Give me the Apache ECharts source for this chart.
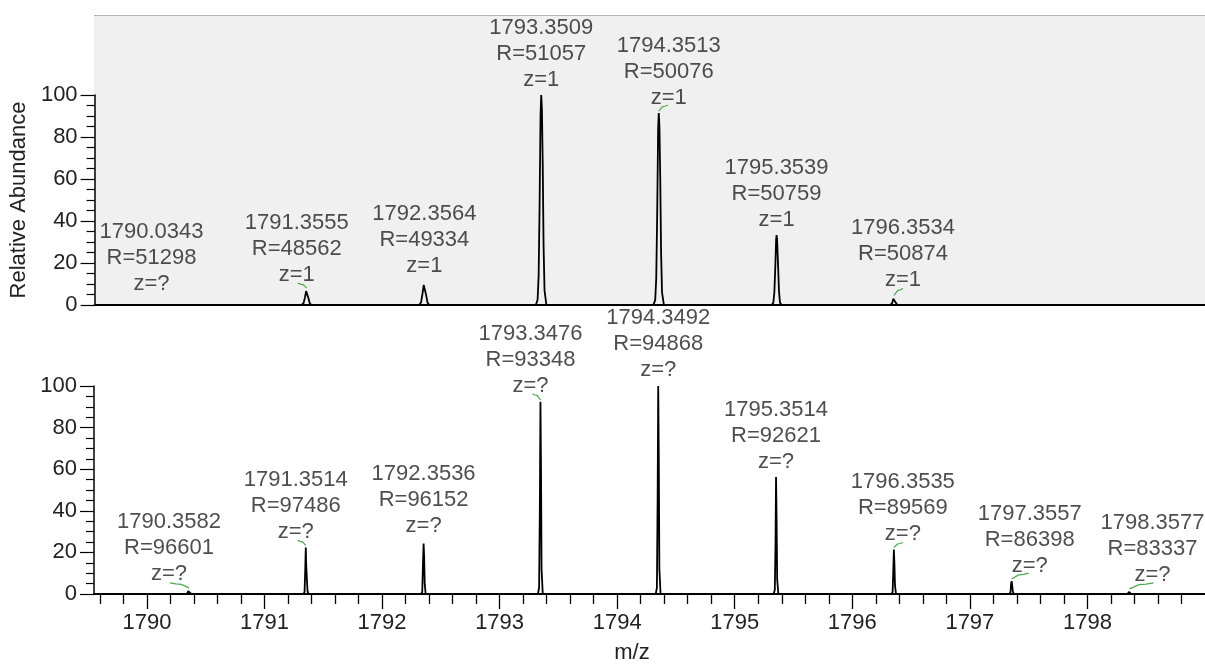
<!DOCTYPE html>
<html>
<head>
<meta charset="utf-8">
<script src="https://cdn.jsdelivr.net/npm/echarts@6/dist/echarts.min.js"></script>
<style>
html,body{margin:0;padding:0;background:#fff;}
#chart{width:1205px;height:665px;}
</style>
</head>
<body>
<div id="chart"></div>
<script>
// ---------- DATA ----------
const topPeakMz = [1790.0343, 1791.3555, 1792.3564, 1793.3509, 1794.3513, 1795.3539, 1796.3534];
const topPeakHeight = [0.6, 7.1, 10.2, 100, 91.4, 33.3, 3.6];
const topPeakR = [51298, 48562, 49334, 51057, 50076, 50759, 50874];
const topPeakZ = ['?', '1', '1', '1', '1', '1', '1'];

const bottomPeakMz = [1790.3582, 1791.3514, 1792.3536, 1793.3476, 1794.3492, 1795.3514, 1796.3535, 1797.3557, 1798.3577];
const bottomPeakHeight = [2.0, 22.4, 24.3, 92.4, 100, 56.2, 21.4, 6.2, 1.5];
const bottomPeakR = [96601, 97486, 96152, 93348, 94868, 92621, 89569, 86398, 83337];
const bottomPeakZ = ['?', '?', '?', '?', '?', '?', '?', '?', '?'];

const topProfile = [
  [1789.55,0],
  [1790.022,0],[1790.0343,0.6],[1790.047,0],
  [1790.588,0],[1790.60,0.5],[1790.612,0],
  [1791.31,0],[1791.328,0.8],[1791.340,3.5],[1791.350,6.6],[1791.3555,7.1],[1791.361,6.4],[1791.370,3.2],[1791.382,0.6],[1791.40,0],
  [1791.958,0],[1791.97,0.9],[1791.982,0],
  [1792.31,0],[1792.328,1.2],[1792.341,5.5],[1792.351,9.6],[1792.3564,10.2],[1792.362,9.4],[1792.371,4.8],[1792.384,1.0],[1792.40,0],
  [1793.305,0],[1793.320,2.5],[1793.329,14],[1793.337,47],[1793.345,90],[1793.3509,100],[1793.357,93],[1793.364,66],[1793.371,28],[1793.379,7],[1793.395,0],
  [1793.578,0],[1793.59,0.5],[1793.602,0],
  [1793.868,0],[1793.88,0.5],[1793.892,0],
  [1794.305,0],[1794.321,2.3],[1794.330,13],[1794.338,44],[1794.346,84],[1794.3513,91.4],[1794.357,85],[1794.364,60],[1794.371,25],[1794.379,6],[1794.395,0],
  [1795.31,0],[1795.326,1],[1795.335,6],[1795.343,18],[1795.350,31],[1795.3539,33.3],[1795.358,31.5],[1795.366,20],[1795.374,7],[1795.383,1],[1795.40,0],
  [1795.888,0],[1795.90,0.5],[1795.912,0],
  [1796.148,0],[1796.16,0.5],[1796.172,0],
  [1796.322,0],[1796.338,1],[1796.348,3],[1796.3534,3.6],[1796.359,3],[1796.369,1],[1796.385,0],
  [1799.0,0]
];

const bottomProfile = [
  [1789.55,0],
  [1790.340,0],[1790.351,1.4],[1790.3582,2.0],[1790.366,1.3],[1790.378,0],
  [1791.332,0],[1791.341,1],[1791.347,12],[1791.3514,22.4],[1791.355,14],[1791.360,8],[1791.366,1.5],[1791.374,0],
  [1792.333,0],[1792.342,1],[1792.348,14],[1792.3536,24.3],[1792.358,18],[1792.363,5],[1792.371,0],
  [1793.326,0],[1793.336,3],[1793.342,40],[1793.3476,92.4],[1793.352,62],[1793.357,12],[1793.367,0],
  [1794.328,0],[1794.338,3],[1794.344,45],[1794.3492,100],[1794.354,64],[1794.359,12],[1794.369,0],
  [1795.331,0],[1795.341,2],[1795.347,25],[1795.3514,56.2],[1795.356,36],[1795.361,7],[1795.371,0],
  [1796.333,0],[1796.343,1],[1796.349,12],[1796.3535,21.4],[1796.358,15],[1796.363,4],[1796.372,0],
  [1797.336,0],[1797.346,1],[1797.351,5],[1797.3557,6.2],[1797.360,5.6],[1797.366,1],[1797.375,0],
  [1798.342,0],[1798.352,1],[1798.3577,1.5],[1798.363,1],[1798.374,0],
  [1799.0,0]
];

const xMajorTicks = [1790, 1791, 1792, 1793, 1794, 1795, 1796, 1797, 1798];
const xMinorTicks = [1789.6, 1789.8,
  1790.2, 1790.4, 1790.6, 1790.8,
  1791.2, 1791.4, 1791.6, 1791.8,
  1792.2, 1792.4, 1792.6, 1792.8,
  1793.2, 1793.4, 1793.6, 1793.8,
  1794.2, 1794.4, 1794.6, 1794.8,
  1795.2, 1795.4, 1795.6, 1795.8,
  1796.2, 1796.4, 1796.6, 1796.8,
  1797.2, 1797.4, 1797.6, 1797.8,
  1798.2, 1798.4, 1798.6, 1798.8];
const xMin = 1789.55, xMax = 1799.0;

// ---------- LAYOUT / STYLE ----------
const FONT = "'Liberation Sans', Arial, sans-serif";
const TXT = '#222222';
const GREEN = '#4caa4c';
const topLabelShift = [[0,-4],[-10,0],[0,-2],[0,0],[10,0],[0,0],[9,-2]];
const bottomLabelShift = [[-20,0],[-10,0],[0,-2],[-10,0],[0,-1],[0,0],[9,0],[18,0],[23,0]];
const topConnector = {1:[-9,-5], 4:[9,-6], 6:[9,-7]};
const bottomConnector = {0:[-19,-5], 1:[-8,-5], 3:[-8,-6], 6:[9,-5], 7:[17,-6], 8:[24,-6]};

const chart = echarts.init(document.getElementById('chart'), null, {renderer: 'canvas'});

function labelSeries(mz, h, R, Z, shift, xi, yi) {
  return {
    type: 'scatter', xAxisIndex: xi, yAxisIndex: yi, z: 5,
    symbolSize: 1, itemStyle: {color: 'rgba(0,0,0,0)'},
    silent: true,
    data: mz.map((m, i) => ({value: [m, h[i]], label: {offset: shift[i]}})),
    label: {
      show: true, position: 'top', distance: 2,
      fontFamily: FONT, fontSize: 22, lineHeight: 26, color: TXT, align: 'center',
      formatter: p => mz[p.dataIndex].toFixed(4) + '\nR=' + R[p.dataIndex] + '\nz=' + Z[p.dataIndex]
    }
  };
}

function connectorSeries(mz, h, conn, xi, yi) {
  const idx = Object.keys(conn).map(Number);
  return {
    type: 'custom', xAxisIndex: xi, yAxisIndex: yi, z: 4, silent: true,
    data: idx.map(i => [mz[i], h[i], i]),
    renderItem: (params, api) => {
      const p = api.coord([api.value(0), api.value(1)]);
      const d = conn[api.value(2)];
      const x0 = p[0], y0 = p[1] - 2;
      return {
        type: 'polyline',
        shape: {points: [[x0, y0], [x0 + d[0] * 0.4, y0 + d[1] * 0.7], [x0 + d[0] * 0.7, y0 + d[1] * 0.8], [x0 + d[0], y0 + d[1]]]},
        style: {stroke: GREEN, lineWidth: 1.2, fill: null}
      };
    }
  };
}

const yAxisCommon = {
  type: 'value', min: 0, max: 100, interval: 20,
  axisLine: {show: true, lineStyle: {color: '#000', width: 1.5}},
  axisTick: {show: true, length: 14, lineStyle: {color: '#000', width: 1.2}},
  minorTick: {show: true, splitNumber: 4, length: 8, lineStyle: {color: '#000', width: 1.2}},
  axisLabel: {fontFamily: FONT, fontSize: 22, color: TXT, margin: 17},
  splitLine: {show: false}
};

const option = {
  animation: false,
  backgroundColor: '#fff',
  graphic: {
    elements: [
      {type: 'rect', left: 94, top: 15, z: -10, shape: {width: 1111, height: 290}, style: {fill: '#f0f0f0'}},
      {type: 'line', z: -9, shape: {x1: 94, y1: 15.5, x2: 1205, y2: 15.5}, style: {stroke: '#b4b4b4', lineWidth: 1}}
    ]
  },
  grid: [
    {left: 94, right: 0, top: 95, height: 210},
    {left: 94, right: 0, top: 386, height: 210}
  ],
  xAxis: [
    {type: 'value', gridIndex: 0, min: xMin, max: xMax, position: 'bottom',
     axisLine: {show: true, onZero: false, lineStyle: {color: '#000', width: 2}},
     axisTick: {show: false}, axisLabel: {show: false}, splitLine: {show: false}},
    {type: 'value', gridIndex: 1, min: xMin, max: xMax, position: 'bottom',
     name: 'm/z', nameLocation: 'middle', nameGap: 48,
     nameTextStyle: {fontFamily: FONT, fontSize: 22, color: TXT, padding: [0, 35, 0, 0]},
     axisLine: {show: true, onZero: false, lineStyle: {color: '#000', width: 2}},
     axisTick: {show: true, length: 15, customValues: xMajorTicks, lineStyle: {color: '#000', width: 1.3}},
     axisLabel: {show: true, customValues: xMajorTicks, formatter: v => String(v), fontFamily: FONT, fontSize: 22, color: TXT, margin: 18},
     splitLine: {show: false}},
    {type: 'value', gridIndex: 1, min: xMin, max: xMax, position: 'bottom', offset: 0,
     axisLine: {show: false, onZero: false},
     axisTick: {show: true, length: 10, customValues: xMinorTicks, lineStyle: {color: '#000', width: 1.3}},
     axisLabel: {show: false}, splitLine: {show: false}}
  ],
  yAxis: [
    Object.assign({}, yAxisCommon, {gridIndex: 0, name: 'Relative Abundance', nameLocation: 'middle', nameGap: 55,
      nameTextStyle: {fontFamily: FONT, fontSize: 22, color: TXT}}),
    Object.assign({}, yAxisCommon, {gridIndex: 1})
  ],
  series: [
    {type: 'line', xAxisIndex: 0, yAxisIndex: 0, data: topProfile, showSymbol: false, symbol: 'none',
     lineStyle: {color: '#000', width: 1.8}, z: 3, silent: true},
    {type: 'line', xAxisIndex: 1, yAxisIndex: 1, data: bottomProfile, showSymbol: false, symbol: 'none',
     lineStyle: {color: '#000', width: 1.8}, z: 3, silent: true},
    labelSeries(topPeakMz, topPeakHeight, topPeakR, topPeakZ, topLabelShift, 0, 0),
    labelSeries(bottomPeakMz, bottomPeakHeight, bottomPeakR, bottomPeakZ, bottomLabelShift, 1, 1),
    connectorSeries(topPeakMz, topPeakHeight, topConnector, 0, 0),
    connectorSeries(bottomPeakMz, bottomPeakHeight, bottomConnector, 1, 1)
  ]
};
chart.setOption(option);
</script>
</body>
</html>
